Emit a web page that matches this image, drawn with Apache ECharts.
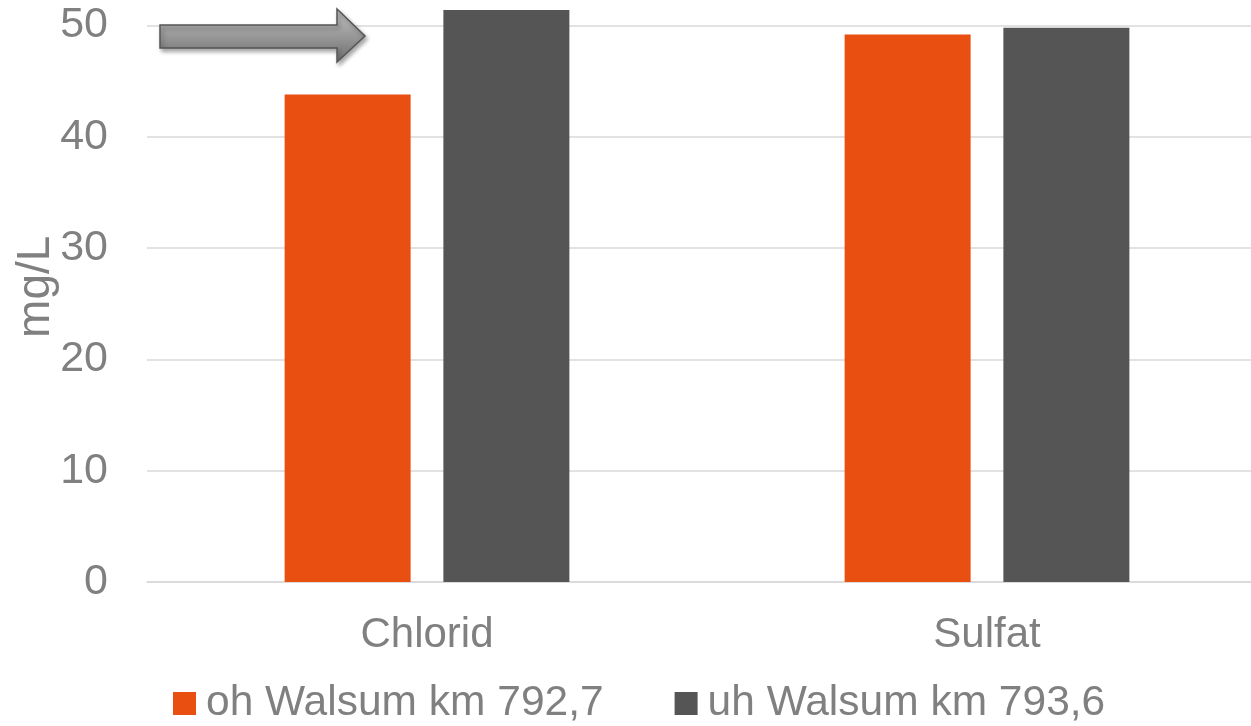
<!DOCTYPE html>
<html>
<head>
<meta charset="utf-8">
<script src="https://cdn.jsdelivr.net/npm/echarts@6/dist/echarts.min.js"></script>
<style>html,body{margin:0;padding:0;background:#fff;}#c{width:1251px;height:726px;}</style>
</head>
<body>
<div id="c"></div>
<script>
var categories = ['Chlorid', 'Sulfat'];
var seriesNames = ['oh Walsum km 792,7', 'uh Walsum km 793,6'];
var ohValues = [43.8, 49.2];
var uhValues = [51.4, 49.8];
var yTicks = [0, 10, 20, 30, 40, 50];
var colors = ['#E84F10', '#555555'];

var chart = echarts.init(document.getElementById('c'));
var font = 'Liberation Sans, Arial, sans-serif';
chart.setOption({
  animation: false,
  color: colors,
  grid: { left: 147, top: 25.5, right: -16, bottom: 144, containLabel: false, outerBoundsMode: 'none' },
  legend: {
    top: 677, left: 168,
    itemWidth: 23, itemHeight: 23, itemGap: 71,
    icon: 'rect',
    textStyle: { fontFamily: font, fontSize: 42.5, color: '#808080', padding: [0,0,0,5] },
    data: seriesNames
  },
  xAxis: {
    type: 'category', data: categories,
    axisLine: { lineStyle: { color: '#d9d9d9', width: 1.5 } },
    axisTick: { show: false },
    axisLabel: { fontFamily: font, fontSize: 42, color: '#808080', margin: 32 }
  },
  yAxis: {
    type: 'value', min: yTicks[0], max: yTicks[yTicks.length-1], interval: 10,
    name: 'mg/L', nameLocation: 'middle', nameGap: 88, nameRotate: 90, nameMoveOverlap: false,
    nameTextStyle: { fontFamily: font, fontSize: 46, color: '#808080', padding: [0,0,0,34] },
    axisLine: { show: false }, axisTick: { show: false },
    axisLabel: { fontFamily: font, fontSize: 43, color: '#808080', margin: 39 },
    splitLine: { lineStyle: { color: '#d9d9d9', width: 1.5 } }
  },
  series: [
    { name: seriesNames[0], type: 'bar', data: ohValues, barWidth: '22.5%', barGap: '26%', clip: false },
    { name: seriesNames[1], type: 'bar', data: uhValues, barWidth: '22.5%', barGap: '26%', clip: false }
  ],
  graphic: [{
    type: 'polygon',
    shape: { points: [[160,25],[337,25],[337,9],[365,36],[337,62],[337,48],[160,48]] },
    style: {
      fill: { type: 'linear', x: 0, y: 0, x2: 0, y2: 1, colorStops: [
        { offset: 0, color: '#c4c4c4' }, { offset: 1, color: '#6e6e6e' } ] },
      stroke: '#555', lineWidth: 1.5,
      shadowBlur: 4, shadowOffsetX: 2, shadowOffsetY: 3, shadowColor: 'rgba(0,0,0,0.35)'
    },
    z: 100
  }]
});
</script>
</body>
</html>
